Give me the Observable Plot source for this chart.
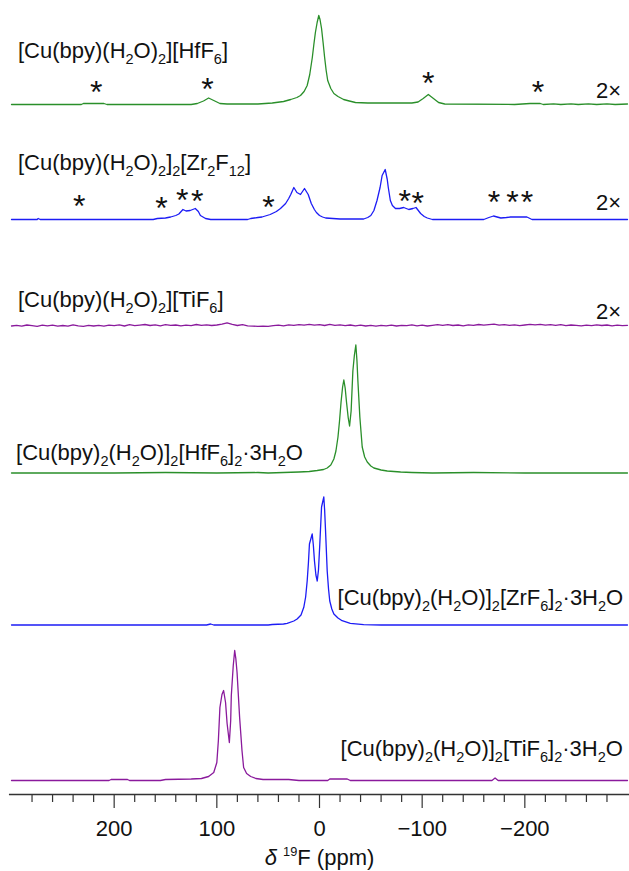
<!DOCTYPE html>
<html><head><meta charset="utf-8">
<script src="https://cdn.jsdelivr.net/npm/d3@7"></script>
<script src="https://cdn.jsdelivr.net/npm/@observablehq/plot@0.6"></script>
<style>body{margin:0;background:#fff}</style>
</head><body><div id="chart"></div>
<script>
// ---------- DATA (chemical shift in ppm, intensity in a.u.) ----------
const compoundNames = [
  "[Cu(bpy)(H_{2}O)_{2}][HfF_{6}]",
  "[Cu(bpy)(H_{2}O)_{2}]_{2}[Zr_{2}F_{12}]",
  "[Cu(bpy)(H_{2}O)_{2}][TiF_{6}]",
  "[Cu(bpy)_{2}(H_{2}O)]_{2}[HfF_{6}]_{2}·3H_{2}O",
  "[Cu(bpy)_{2}(H_{2}O)]_{2}[ZrF_{6}]_{2}·3H_{2}O",
  "[Cu(bpy)_{2}(H_{2}O)]_{2}[TiF_{6}]_{2}·3H_{2}O"
];
const scaleNotes = ["2×", "2×", "2×"];

const specHfF6 = [[300,0],[232,0],[230,1],[210,1],[207,0],[160,0],[125,0],[119,1],[113,3.5],[108,6.5],[103,4],[97,1],[90,0.5],[60,0.5],[46,1.5],[35,3],[28,5],[22,7],[18.5,9],[15,13],[12,19],[9.5,30],[7,47],[5.5,60],[4,72],[2.3,82],[0.7,89],[-0.5,85],[-2,76],[-3.5,62],[-5,47],[-6.5,34],[-8,24],[-11,16],[-14,11],[-18,8],[-23.5,5],[-29,3.5],[-35,2],[-47,1.5],[-70,1.5],[-90,1.5],[-96,2.5],[-101,6],[-106,10],[-111,6],[-116,2],[-122,0.5],[-190,0],[-205,1],[-215,1],[-218,0],[-228,0.6],[-235,0],[-245,0.7],[-252,0],[-262,0.6],[-270,0],[-280,0.7],[-288,0],[-300,0.5]];
const specZr2F12 = [[300,0],[275,0],[274,1],[272,0],[162,0],[158,1],[150,1.5],[145,2.5],[140,4],[137,5.5],[133,10],[130,8.5],[126,9],[121,11],[118,8],[116,4],[111,1],[106,0],[70,0],[67,1],[60,2],[56,2.5],[48,5],[42,8],[38,11],[33,16],[30,21],[28,25],[25,32],[22,27],[18.5,25],[14.6,31],[11,25],[8,16],[5,10],[3,7],[0,4],[-3,2.5],[-6,1.5],[-20,0.5],[-43,0.5],[-47,2],[-50,4],[-53,9],[-56,19],[-59,32],[-61,44],[-64,50],[-66,40],[-67,32],[-69,19],[-71,14],[-74,11],[-78,11],[-82,12],[-87,10],[-91,11],[-94,12],[-98.5,6],[-102,3],[-105,1.5],[-110,0],[-160,0],[-165,2],[-169.5,3.5],[-173,2.5],[-176.6,1.5],[-182,2],[-186,2.5],[-202,2.5],[-207,0],[-300,0]];
const specTiF6 = [[300,0.5],[295,1.2],[290,0.3],[285,1.5],[280,0.8],[275,0.2],[270,1.3],[265,0.6],[260,1.4],[255,0.3],[250,1.0],[245,0.4],[240,1.6],[235,0.7],[230,0.2],[225,1.2],[220,0.5],[215,1.1],[210,0.3],[205,1.3],[200,0.8],[195,1.6],[190,0.5],[185,1.8],[180,0.9],[175,1.4],[170,2.0],[165,1.0],[160,1.6],[155,0.7],[150,1.9],[145,1.1],[140,1.5],[135,0.6],[130,1.3],[125,0.9],[120,2.0],[115,1.2],[110,1.7],[105,1.0],[100,1.5],[95,2.4],[90,3.6],[85,2.2],[80,1.0],[75,1.8],[70,0.6],[65,0.3],[60,0.2],[55,0.4],[50,0.2],[45,0.8],[40,1.4],[35,0.6],[30,1.7],[25,1.1],[20,1.9],[15,1.3],[10,2.1],[5,1.4],[0,1.8],[-5,1.0],[-10,2.2],[-15,1.2],[-20,1.7],[-25,0.8],[-30,1.5],[-35,0.6],[-40,1.3],[-45,0.5],[-50,1.1],[-55,0.4],[-60,1.2],[-65,0.7],[-70,1.4],[-75,0.5],[-80,1.2],[-85,0.9],[-90,1.6],[-95,0.7],[-100,1.3],[-105,0.5],[-110,1.1],[-115,1.8],[-120,1.2],[-125,1.9],[-130,1.0],[-135,1.5],[-140,0.7],[-145,1.6],[-150,1.2],[-155,2.0],[-160,1.3],[-165,1.8],[-170,2.3],[-175,1.4],[-180,1.9],[-185,1.1],[-190,1.7],[-195,0.9],[-200,1.5],[-205,2.1],[-210,1.6],[-215,2.2],[-220,1.3],[-225,1.8],[-230,1.2],[-235,1.9],[-240,0.8],[-245,1.5],[-250,1.1],[-255,0.6],[-260,1.4],[-265,0.9],[-270,1.7],[-275,1.0],[-280,1.5],[-285,0.7],[-290,1.3],[-295,0.8],[-300,1.2]];
const specBpy2HfF6 = [[300,0],[200,0],[150,0.5],[100,0],[60,0.5],[50,0],[20,1],[10,1.5],[2.3,2.5],[-4,3.5],[-7.5,5],[-11,8],[-14,14],[-16,22],[-18,36],[-19.5,52],[-21,71],[-22.5,86],[-23.7,93],[-25,85],[-26.3,71],[-28,55],[-29.3,47],[-30.8,62],[-32.5,102],[-34,118],[-35.4,128],[-36.5,112],[-37.4,92],[-39.3,56],[-41.6,26],[-44,16],[-46.5,11],[-50,7],[-53,5],[-60,3],[-66,2],[-79,1],[-90,0.5],[-110,0],[-150,0.5],[-200,0],[-300,0]];
const specBpy2ZrF6 = [[300,0],[110,0],[106,1],[103,0],[50,0],[46,0.5],[35,1],[31.5,1.7],[25,4],[21.8,6],[18,10],[15.3,17.7],[13.5,28],[12,44],[10.8,62],[9.8,81],[7.1,91],[6,80],[4.9,64],[3.5,50],[2.2,44],[1,55],[-0.3,81],[-2,118],[-4.2,128],[-5,115],[-5.9,94],[-7.5,54],[-8.8,36],[-10,24],[-12,16],[-14,11],[-18,7],[-22,4.3],[-30,1.7],[-43,0.3],[-60,0],[-300,0]];
const specBpy2TiF6 = [[300,0],[205,0],[203,1],[187,1],[185,0],[155,0],[150,1],[125,1.5],[115,2],[108,4],[103,8],[100,18],[98.5,40],[97,73],[95,86],[93.4,90],[91.5,78],[90,57],[87.8,38],[86.5,60],[85.9,85],[84,115],[82.6,130],[81.5,122],[80.3,108],[77.8,63],[75.5,30],[73.9,13],[71,7],[67,4],[62,2],[55,1],[30,1],[20,0],[-8,0],[-10,1.5],[-27,1.5],[-30,0],[-168,0],[-171,2.5],[-174,0],[-300,0]];

// spinning sidebands (ppm)
const sidebandsHfF6 = [217.6, 109, -106, -212.7];
const sidebandsZr2F12 = [234, 154, 133.7, 119, 49.8, -83, -95.6, -170, -188, -202];

// axis ticks (ppm)
const majorTicks = [200, 100, 0, -100, -200];
const minorTicks = [280, 260, 240, 220, 180, 160, 140, 120, 80, 60, 40, 20, -20, -40, -60, -80, -120, -140, -160, -180, -220, -240, -260, -280];
const axisTitle = "~{δ} ^{19}F (ppm)";

// ---------- LAYOUT ----------
const spectra = [specHfF6, specZr2F12, specTiF6, specBpy2HfF6, specBpy2ZrF6, specBpy2TiF6];
const colors = ["#2a8f2a", "#1c1cf5", "#8a1a9c", "#2a8f2a", "#1c1cf5", "#8a1a9c"];
const offsets = [690, 575, 468, 321.5, 169.5, 14];
const labelPos = [[293.7, 744], [293.7, 632], [293.7, 495], [295.6, 342], [-17.6, 197], [-20.5, 46]];
const notePos = [[-269.3, 704], [-269.3, 592], [-269.3, 483]];
const starLiftHfF6 = [16, 19, 25, 16];
const starLiftZr2F12 = [17, 15, 23, 22, 16, 22, 20, 21, 21, 21];
const FONT = "'Liberation Sans', Arial, Helvetica, sans-serif";
const FS = 22;

const lineMarks = spectra.map((s, i) =>
  Plot.line(s.map(([x, h]) => ({x, y: offsets[i] + h})), {x: "x", y: "y", stroke: colors[i], strokeWidth: 1.3, curve: "linear"})
);
const stars = [
  ...sidebandsHfF6.map((x, j) => ({x, y: offsets[0] + starLiftHfF6[j]})),
  ...sidebandsZr2F12.map((x, j) => ({x, y: offsets[1] + starLiftZr2F12[j]}))
];
const labels = compoundNames.map((t, i) => ({t, x: labelPos[i][0], y: labelPos[i][1]}));
const notes = scaleNotes.map((t, i) => ({t, x: notePos[i][0], y: notePos[i][1]}));

const chart = Plot.plot({
  width: 629, height: 871,
  marginTop: 0, marginBottom: 77, marginLeft: 11, marginRight: 2,
  style: {fontFamily: FONT, background: "#fff", color: "#111"},
  x: {domain: [300, -300]},
  y: {domain: [0, 794], axis: null},
  marks: [
    ...lineMarks,
    Plot.text(stars, {x: "x", y: "y", text: () => "*", fontSize: 32, lineAnchor: "bottom", dy: 14, fill: "#111"}),
    Plot.text(labels, {x: "x", y: "y", text: "t", fontSize: FS, textAnchor: "start", lineAnchor: "middle", fill: "#111"}),
    Plot.text(notes, {x: "x", y: "y", text: "t", fontSize: FS, textAnchor: "start", lineAnchor: "middle", fill: "#111"}),
    Plot.ruleY([0], {x1: 302, x2: -305, stroke: "#333", strokeWidth: 1.5}),
    Plot.axisX({ticks: minorTicks, tickSize: 8, tickFormat: () => "", stroke: "#333", strokeWidth: 1.2, label: null}),
    Plot.axisX({ticks: majorTicks, tickSize: 14, tickPadding: 12, fontSize: FS, stroke: "#333", strokeWidth: 1.2, label: null, fill: "#111"}),
    Plot.text([axisTitle], {frameAnchor: "bottom", dy: 63, fontSize: FS, lineAnchor: "middle", fill: "#111"})
  ]
});
document.getElementById("chart").appendChild(chart);

// rich text: _{sub} ^{sup} ~{italic}
function richText(el) {
  const s = el.textContent;
  if (!/[_^~]\{/.test(s)) return;
  const fs = parseFloat(getComputedStyle(el).fontSize) || FS;
  el.textContent = "";
  const re = /([_^~])\{([^}]*)\}/g;
  let last = 0, shift = 0, m;
  const add = (txt, kind) => {
    if (!txt) return;
    const t = document.createElementNS("http://www.w3.org/2000/svg", "tspan");
    let target = 0;
    if (kind === "_") { target = fs * 0.3; t.setAttribute("font-size", fs * 0.66); }
    else if (kind === "^") { target = -fs * 0.38; t.setAttribute("font-size", fs * 0.58); }
    else if (kind === "~") { t.setAttribute("font-style", "italic"); }
    const dy = target - shift;
    if (dy) t.setAttribute("dy", dy);
    shift = target;
    t.textContent = txt;
    el.appendChild(t);
  };
  while ((m = re.exec(s))) { add(s.slice(last, m.index), null); add(m[2], m[1]); last = re.lastIndex; }
  add(s.slice(last), null);
}
chart.querySelectorAll("text").forEach(richText);
</script>
</body></html>
